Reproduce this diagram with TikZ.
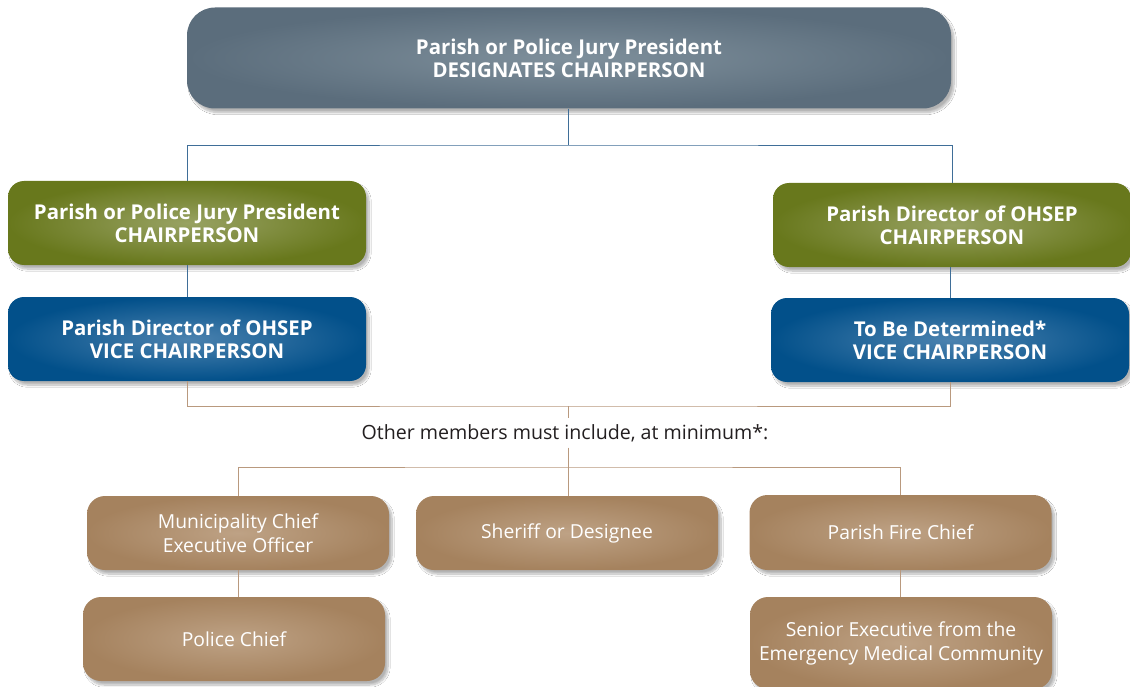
\documentclass[tikz,border=0pt]{standalone}
\usepackage{fontspec}
\setmainfont{Open Sans}
\usetikzlibrary{shadows.blur}
\definecolor{greyin}{HTML}{7F909C}
\definecolor{greyout}{HTML}{5B6D7C}
\definecolor{greenin}{HTML}{98A263}
\definecolor{greenout}{HTML}{68781C}
\definecolor{bluein}{HTML}{4B82AF}
\definecolor{blueout}{HTML}{02508A}
\definecolor{tanin}{HTML}{BEA285}
\definecolor{tanout}{HTML}{A5825E}
\definecolor{bline}{HTML}{3F6E98}
\definecolor{tline}{HTML}{B9997E}
\definecolor{txt}{HTML}{231F20}
\tikzset{
  basebox/.style={inner sep=0pt, align=center, text=white,
    blur shadow={shadow xshift=3pt, shadow yshift=-4pt, shadow blur steps=10, shadow opacity=30}},
  topbox/.style={basebox, rounded corners=28pt, minimum width=764pt, minimum height=101pt,
    inner color=greyin, outer color=greyout, shade,
    font=\fontsize{20.4}{23}\selectfont\bfseries},
  greenbox/.style={basebox, rounded corners=16pt, minimum width=358pt, minimum height=84pt,
    inner color=greenin, outer color=greenout, shade,
    font=\fontsize{20.4}{23}\selectfont\bfseries},
  bluebox/.style={basebox, rounded corners=16pt, minimum width=358pt, minimum height=84pt,
    inner color=bluein, outer color=blueout, shade,
    font=\fontsize{20.4}{23}\selectfont\bfseries},
  tanbox/.style={basebox, rounded corners=18pt, minimum width=302pt,
    inner color=tanin, outer color=tanout, shade,
    font=\fontsize{19.3}{24}\selectfont},
  bl/.style={draw=bline, line width=0.9pt},
  tl/.style={draw=tline, line width=0.9pt},
}
\begin{document}
\begin{tikzpicture}[x=1pt,y=-1pt]
\useasboundingbox (0,0) rectangle (1130,687);
\clip (0,0) rectangle (1130,687);
\fill[white] (0,0) rectangle (1130,687);

\coordinate (j1) at (568,145);
\coordinate (j2) at (568,406);
\coordinate (j3) at (568,467);

\node[topbox] (top) at (569,58) {Parish or Police Jury President\\DESIGNATES CHAIRPERSON};

\node[greenbox] (g1) at (187,223) {Parish or Police Jury President\\CHAIRPERSON};
\node[greenbox] (g2) at (952,225) {Parish Director of OHSEP\\CHAIRPERSON};
\node[bluebox] (b1) at (187,339) {Parish Director of OHSEP\\VICE CHAIRPERSON};
\node[bluebox] (b2) at (950,340) {To Be Determined*\\VICE CHAIRPERSON};

\node[text=txt, font=\fontsize{19.6}{23}\selectfont, inner sep=2pt, outer sep=4pt] (other) at (565,433)
  {Other members must include, at minimum*:};

\node[tanbox, minimum height=74pt] (t1) at (238,533) {Municipality Chief\\Executive Officer};
\node[tanbox, minimum height=74pt] (t2) at (567,533) {Sheriff or Designee};
\node[tanbox, minimum height=75pt] (t3) at (900.5,532.5) {Parish Fire Chief};
\node[tanbox, minimum height=84pt] (t4) at (234,639) {Police Chief};
\node[tanbox, minimum height=92pt] (t5) at (901,643) {Senior Executive from the\\Emergency Medical Community};

\draw[bl] (top.south -| j1) -- (j1);
\draw[bl] (g1.north) |- (j1) -| (g2.north);
\draw[bl] (g1.south) -- (b1.north);
\draw[bl] (g2.south -| b2.north) -- (b2.north);
\draw[tl] (b1.south) |- (j2) -| (b2.south);
\draw[tl] (j2) -- (other.north -| j2);
\draw[tl] (other.south -| j3) -- (j3);
\draw[tl] (t1.north) |- (j3) -| (t3.north);
\draw[tl] (j3) -- (t2.north -| j3);
\draw[tl] (t1.south) -- (t1.south |- t4.north);
\draw[tl] (t3.south) -- (t3.south |- t5.north);
\end{tikzpicture}
\end{document}
